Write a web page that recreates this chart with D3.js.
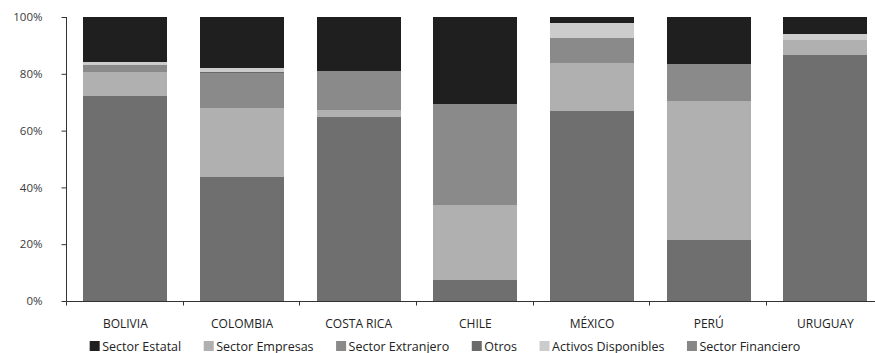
<!DOCTYPE html>
<html>
<head>
<meta charset="utf-8">
<script src="https://cdn.jsdelivr.net/npm/d3@7"></script>
<style>
  html, body { margin: 0; padding: 0; background: #fff; }
  svg { display: block; }
  text { font-family: "Open Sans", "Noto Sans", sans-serif; }
</style>
</head>
<body>
<svg id="chart" width="875" height="353"></svg>
<script>
// Countries along the x axis
const countries = ["BOLIVIA", "COLOMBIA", "COSTA RICA", "CHILE", "MÉXICO", "PERÚ", "URUGUAY"];

// Holder shares (%) per country, one array per holder, stacked bottom to top
const sectorFinanciero   = [72.2, 43.7, 64.9,  7.4, 66.9, 21.5, 86.6];
const sectorEmpresas     = [ 8.5, 24.3,  2.4, 26.4, 16.9, 48.9,  5.3];
const sectorExtranjero   = [ 2.5, 12.2, 13.7, 35.6,  8.8, 13.1,  0.0];
const otros              = [ 0.0,  0.3,  0.0,  0.0,  0.0,  0.0,  0.0];
const activosDisponibles = [ 1.0,  1.6,  0.0,  0.0,  5.2,  0.0,  2.1];
const sectorEstatal      = [15.8, 17.9, 19.0, 30.6,  2.2, 16.5,  6.0];

// Stack order (bottom to top) and legend order
const stackKeys = ["Sector Financiero", "Sector Empresas", "Sector Extranjero", "Otros", "Activos Disponibles", "Sector Estatal"];
const legendKeys = ["Sector Estatal", "Sector Empresas", "Sector Extranjero", "Otros", "Activos Disponibles", "Sector Financiero"];
const yTicks = [0, 20, 40, 60, 80, 100];

const seriesValues = {
  "Sector Financiero": sectorFinanciero,
  "Sector Empresas": sectorEmpresas,
  "Sector Extranjero": sectorExtranjero,
  "Otros": otros,
  "Activos Disponibles": activosDisponibles,
  "Sector Estatal": sectorEstatal
};

// Fill colours for the bar segments
const fillColor = d3.scaleOrdinal()
  .domain(stackKeys)
  .range(["#6f6f6f", "#b0b0b0", "#8a8a8a", "#6a6a6a", "#cccccc", "#1f1f1f"]);
// Legend swatch colours
const swatchColor = {
  "Sector Estatal": "#1f1f1f",
  "Sector Empresas": "#b0b0b0",
  "Sector Extranjero": "#8a8a8a",
  "Otros": "#6a6a6a",
  "Activos Disponibles": "#cccccc",
  "Sector Financiero": "#878787"
};

// Build table rows for d3.stack
const rows = countries.map((c, i) => {
  const r = { country: c };
  stackKeys.forEach(k => { r[k] = seriesValues[k][i]; });
  return r;
});
const stacked = d3.stack().keys(stackKeys)(rows);

const svg = d3.select("#chart");
const plotLeft = 67, plotTop = 17, plotBottom = 301;
const step = 116.67;

const x = d3.scaleBand()
  .domain(countries)
  .range([plotLeft, plotLeft + step * countries.length])
  .paddingInner(0.28)
  .paddingOuter(0.14);

const y = d3.scaleLinear().domain([0, 100]).range([plotBottom, plotTop]);

// Bars
svg.append("g")
  .selectAll("g")
  .data(stacked)
  .join("g")
  .attr("fill", d => fillColor(d.key))
  .selectAll("rect")
  .data(d => d)
  .join("rect")
  .attr("x", d => x(d.data.country))
  .attr("width", x.bandwidth())
  .attr("y", d => y(d[1]))
  .attr("height", d => Math.max(0, y(d[0]) - y(d[1])))
  .attr("shape-rendering", "crispEdges");

const axisColor = "#333";

// Y axis
const yAxis = d3.axisLeft(y)
  .tickValues(yTicks)
  .tickFormat(d => d + "%")
  .tickSize(5)
  .tickPadding(19);
const gy = svg.append("g")
  .attr("transform", `translate(${plotLeft - 0.5},0)`)
  .call(yAxis);
gy.select(".domain").attr("stroke", axisColor).attr("d", `M0,${y(100)}V${y(0)}`);
gy.selectAll(".tick line").attr("stroke", axisColor);
gy.selectAll(".tick text")
  .attr("fill", "#3a3a3a")
  .style("font-size", "11.5px");

// X axis: baseline with ticks at category boundaries
const gx = svg.append("g").attr("transform", `translate(0,${plotBottom + 0.5})`);
gx.append("line")
  .attr("x1", plotLeft - 0.5).attr("x2", x.range()[1])
  .attr("stroke", axisColor);
const boundaries = d3.range(countries.length + 1).map(i => x.range()[0] + i * x.step());
gx.selectAll("line.tk")
  .data(boundaries)
  .join("line")
  .attr("class", "tk")
  .attr("x1", d => Math.round(d) - 0.5).attr("x2", d => Math.round(d) - 0.5)
  .attr("y1", 0).attr("y2", 4)
  .attr("stroke", axisColor);
gx.selectAll("text")
  .data(countries)
  .join("text")
  .attr("x", d => x(d) + x.bandwidth() / 2)
  .attr("y", 26)
  .attr("text-anchor", "middle")
  .attr("fill", "#222")
  .style("font-size", "12px")
  .text(d => d);

// Legend, centred under the plot
const legend = svg.append("g").attr("transform", "translate(0,341)");
const items = legend.selectAll("g")
  .data(legendKeys)
  .join("g");
items.append("rect")
  .attr("width", 10).attr("height", 10)
  .attr("fill", d => swatchColor[d]);
items.append("text")
  .attr("x", 12.5)
  .attr("y", 9.5)
  .attr("fill", "#222")
  .style("font-size", "12.5px")
  .text(d => d);
const gap = 22.5;
const widths = [];
items.each(function () { widths.push(12.5 + this.querySelector("text").getComputedTextLength()); });
const total = d3.sum(widths) + gap * (widths.length - 1);
let cursor = 445 - total / 2;
items.attr("transform", (d, i) => {
  const t = `translate(${cursor},0)`;
  cursor += widths[i] + gap;
  return t;
});
</script>
</body>
</html>
